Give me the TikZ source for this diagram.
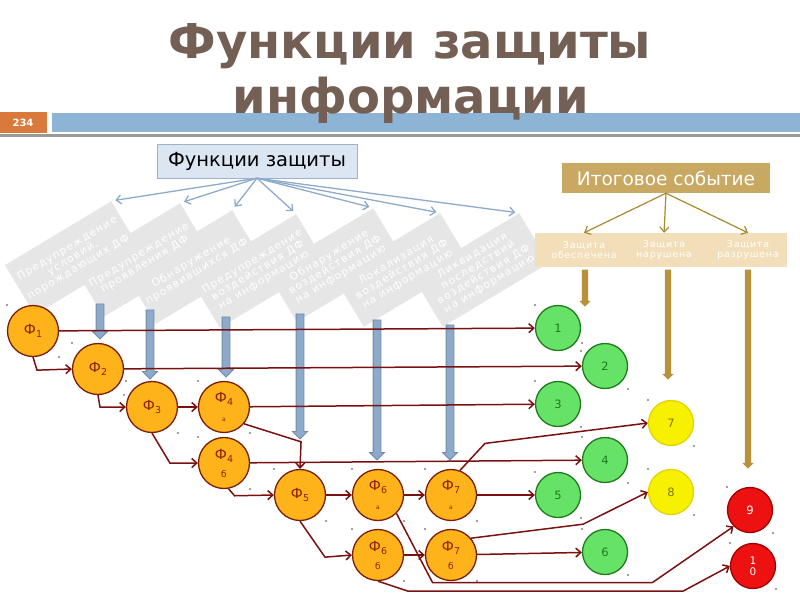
\documentclass[tikz,border=0pt]{standalone}
\usepackage{fontspec}
\setmainfont{DejaVu Sans}
\newfontfamily\spacedfont[LetterSpace=8]{DejaVu Sans}
\newfontfamily\widefont[LetterSpace=12]{DejaVu Sans}
\usetikzlibrary{arrows.meta,shapes.arrows,calc}

\definecolor{titlebrown}{HTML}{745F55}
\definecolor{barblue}{HTML}{8DB3D5}
\definecolor{pageorange}{HTML}{D9793C}
\definecolor{boxblue}{HTML}{DCE6F2}
\definecolor{boxline}{HTML}{9DB3CC}
\definecolor{arrblue}{HTML}{8EAACB}
\definecolor{arrblueline}{HTML}{6E8BAB}
\definecolor{bandgray}{HTML}{E6E6E6}
\definecolor{gold}{HTML}{B8913A}
\definecolor{golddark}{HTML}{A88A2E}
\definecolor{goldbox}{HTML}{C9A862}
\definecolor{goldband}{HTML}{F2DEB8}
\definecolor{fnorange}{HTML}{FFB31A}
\definecolor{fnline}{HTML}{7A1E0A}
\definecolor{fntext}{HTML}{8B2500}
\definecolor{linkred}{HTML}{7B1010}
\definecolor{okgreen}{HTML}{66E366}
\definecolor{okline}{HTML}{1E7B1E}
\definecolor{warnyellow}{HTML}{F7F000}
\definecolor{warnline}{HTML}{E2D400}
\definecolor{warntext}{HTML}{7F7A00}
\definecolor{badred}{HTML}{EE1111}
\definecolor{badline}{HTML}{A00000}

\newcommand\fsub[1]{\raisebox{-3pt}{\fontsize{9.5}{9.5}\selectfont #1}}

\tikzset{
  headline/.style={font=\bfseries\fontsize{48}{48}\selectfont, text=titlebrown, inner sep=0pt},
  dfbox/.style={rectangle, fill=bandgray, rotate=31, minimum width=124pt, minimum height=58pt},
  dftext/.style={rotate=31, text=white, align=center, inner sep=0pt,
    font=\widefont\fontsize{10.5}{11}\selectfont},
  thinblue/.style={draw=arrblue, line width=1.3pt, shorten >=4pt, -{Straight Barb[length=5pt,width=9pt]}},
  bluearr/.style={single arrow, shape border rotate=270, draw=arrblueline, fill=arrblue, line width=0.8pt,
    inner sep=3.5pt, single arrow head extend=3.5pt, single arrow tip angle=90},
  goldarr/.style={single arrow, shape border rotate=270, fill=gold,
    inner sep=3pt, single arrow head extend=2.5pt, single arrow tip angle=90},
  thingold/.style={draw=golddark, line width=1.2pt, -{Straight Barb[length=5pt,width=9pt]}},
  zlabel/.style={text=white, align=center, font=\spacedfont\fontsize{9.5}{10}\selectfont, inner sep=1pt},
  fn/.style={circle, draw=fnline, line width=1.3pt, fill=fnorange, minimum size=51pt, inner sep=0pt,
    text=fntext, align=center, font=\fontsize{14}{14}\selectfont},
  outcome/.style={circle, minimum size=45pt, inner sep=0pt, line width=1.3pt, align=center,
    font=\fontsize{11.5}{12.5}\selectfont},
  good/.style={outcome, draw=okline, fill=okgreen, text=okline},
  warn/.style={outcome, draw=warnline, fill=warnyellow, text=warntext},
  bad/.style={outcome, draw=badline, fill=badred, text=white},
  link/.style={draw=linkred, line width=1.5pt, -{Straight Barb[length=5pt,width=9pt]}}
}

\begin{document}
\begin{tikzpicture}[x=1pt,y=-1pt]
\useasboundingbox (0,0) rectangle (800,600);

\fill[pageorange] (0,112) rectangle (47,133);
\fill[barblue] (52,113) rectangle (800,132);
\fill[gray!80] (0,133.5) rectangle (800,137);
\node[text=white, font=\bfseries\fontsize{10}{10}\selectfont] (pg) at (23,122.5) {234};
\node[headline, anchor=base] (t1) at (410,58) {Функции защиты};
\node[headline, anchor=base] (t2) at (411,113) {информации};

\node[fill=boxblue, draw=boxline, minimum width=200pt, minimum height=34pt,
  font=\fontsize{19.5}{20}\selectfont] (fz) at (257,161) {Функции защиты};

\node[dfbox] (b1) at (73,258) {};
\node[dfbox] (b2) at (142,260) {};
\node[dfbox] (b3) at (194,267) {};
\node[dfbox] (b4) at (258,271) {};
\node[dfbox] (b5) at (335,265) {};
\node[dfbox] (b6) at (402,270) {};
\node[dfbox] (b7) at (481,270) {};
\node[dftext] (l1) at (b1) {Предупреждение\\условий,\\порождающих ДФ};
\node[dftext] (l2) at (b2) {Предупреждение\\проявления ДФ};
\node[dftext] (l3) at (b3) {Обнаружение\\проявившихся ДФ};
\node[dftext] (l4) at (b4) {Предупреждение\\воздействия ДФ\\на информацию};
\node[dftext] (l5) at (b5) {Обнаружение\\воздействия ДФ\\на информацию};
\node[dftext] (l6) at (b6) {Локализация\\воздействия ДФ\\на информацию};
\node[dftext] (l7) at (b7) {Ликвидация\\последствий\\воздействия ДФ\\на информацию};

\foreach \b in {b1,b2,b3,b4,b5,b6,b7}
  \draw[thinblue] (fz.south) -- (\b.north east);

\node[bluearr, minimum height=35pt] (a1) at (100,319.5) {};
\node[bluearr, minimum height=69pt] (a2) at (150,342.5) {};
\node[bluearr, minimum height=60pt] (a3) at (226,345) {};
\node[bluearr, minimum height=125pt] (a4) at (300,374.5) {};
\node[bluearr, minimum height=140pt] (a5) at (377,388) {};
\node[bluearr, minimum height=135pt] (a6) at (450,390.5) {};

\node[fill=goldbox, minimum width=208pt, minimum height=30pt, text=white,
  font=\fontsize{18.5}{19}\selectfont] (ito) at (666,178) {Итоговое событие};
\node[fill=goldband, minimum width=252pt, minimum height=34pt] (band) at (661,250) {};
\node[zlabel] (zo) at (584,250) {Защита\\обеспечена};
\node[zlabel] (zn) at (664,250) {Защита\\нарушена};
\node[zlabel] (zr) at (748,250) {Защита\\разрушена};
\draw[thingold] (ito.south) -- (zo |- band.north);
\draw[thingold] (ito.south) -- (zn |- band.north);
\draw[thingold] (ito.south) -- (zr |- band.north);

\node[goldarr, minimum height=37pt] (g1arr) at (585,286.5) {};
\node[goldarr, minimum height=110pt] (g2arr) at (668,323) {};
\node[goldarr, minimum height=199pt] (g3arr) at (748,367.5) {};

\node[fn] (f1) at (33,331) {Ф\fsub{1}};
\node[fn] (f2) at (98,369) {Ф\fsub{2}};
\node[fn] (f3) at (152,407) {Ф\fsub{3}};
\node[fn] (f4a) at (224,407) {Ф\fsub{4}\\[5pt]{\fontsize{6}{6}\selectfont а}};
\node[fn] (f4b) at (224,463) {Ф\fsub{4}\\[4pt]{\fontsize{9}{9}\selectfont б}};
\node[fn] (f5) at (300,495) {Ф\fsub{5}};
\node[fn] (f6a) at (378,495) {Ф\fsub{6}\\[5pt]{\fontsize{6}{6}\selectfont а}};
\node[fn] (f7a) at (451,495) {Ф\fsub{7}\\[5pt]{\fontsize{6}{6}\selectfont а}};
\node[fn] (f6b) at (378,555) {Ф\fsub{6}\\[4pt]{\fontsize{9}{9}\selectfont б}};
\node[fn] (f7b) at (451,555) {Ф\fsub{7}\\[4pt]{\fontsize{9}{9}\selectfont б}};

\node[good] (g1) at (558,328) {1};
\node[good] (g2) at (605,366) {2};
\node[good] (g3) at (558,404) {3};
\node[good] (g4) at (605,460) {4};
\node[good] (g5) at (558,495) {5};
\node[good] (g6) at (605,552) {6};
\node[warn] (y7) at (671,423) {7};
\node[warn] (y8) at (671,492) {8};
\node[bad] (r9) at (750,510) {9};
\node[bad, font=\fontsize{10.5}{11.5}\selectfont] (r10) at (753,566) {1\\0};

\foreach \n/\r in {f1/26,f2/26,f3/26,f4a/26,f4b/26,f5/26,f6a/26,f7a/26,f6b/26,f7b/26,
    g1/23,g2/23,g3/23,g4/23,g5/23,g6/23,y7/23,y8/23,r9/23,r10/23} {
  \fill[black!75] ($(\n)+(-\r,-\r)$) circle (0.9pt);
  \fill[black!75] ($(\n)+(\r,\r)$) circle (0.9pt);
}

\draw[link] (f1) -- (g1);
\draw[link] (f1.south) -- ++(4,13) -- (f2.west);
\draw[link] (f2) -- (g2);
\draw[link] (f2.south) -- ++(2,12) -- (f3.west);
\draw[link] (f3) -- (f4a);
\draw[link] (f3.south) -- ++(18,30) -- (f4b.west);
\draw[link] (f4a) -- (g3);
\draw[link] (f4a.-40) -- ++(57,18) -- (f5.north);
\draw[link] (f4b) -- (g4);
\draw[link] (f4b.-80) -- ++(6,7) -- (f5.west);
\draw[link] (f5) -- (f6a);
\draw[link] (f5.south) -- ++(25,36) -- (f6b.west);
\draw[link] (f6a) -- (f7a);
\draw[link] (f6b) -- (f7b);
\draw[link] (f7a.70) -- ++(25,-27) -- (y7.west);
\draw[link] (f7a) -- (g5);
\draw[link] (f6a.-45) -- ++(36,69) -- ++(220,0) -- (r9.225);
\draw[link] (f6b.south) -- ++(30,10) -- ++(275,0) -- (r10.west);
\draw[link] (f7b.40) -- ++(112,-14) -- (y8.west);
\draw[link] (f7b) -- (g6);
\end{tikzpicture}
\end{document}
